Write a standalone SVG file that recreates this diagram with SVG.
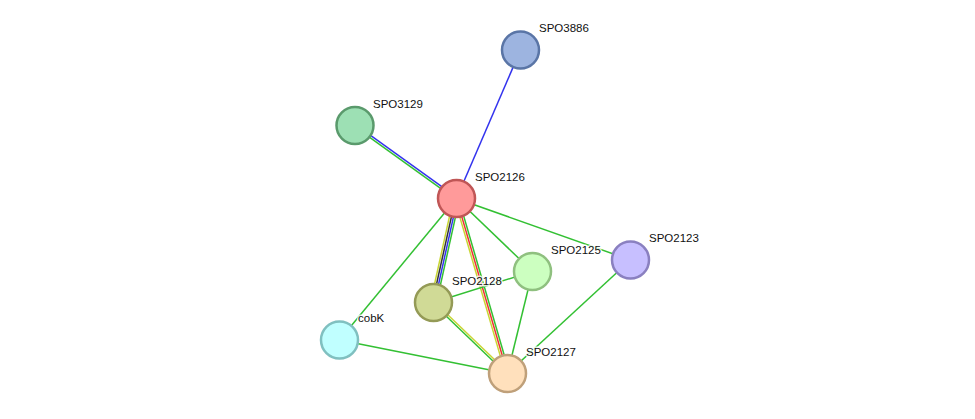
<svg xmlns="http://www.w3.org/2000/svg" width="975" height="419" viewBox="0 0 975 419">
<style>
.e{stroke-width:1.5;fill:none}
.g{stroke:#33c033}.b{stroke:#3333ee}.y{stroke:#c8d633}.k{stroke:#333333}.r{stroke:#ee3333}
.n{stroke-width:2.5}
text{font-family:"Liberation Sans",Arial,sans-serif;font-size:11.5px;fill:#111;stroke:#fff;stroke-width:3;stroke-opacity:0.8;paint-order:stroke;stroke-linejoin:round}
</style>
<rect width="975" height="419" fill="#fff"/>
<g id="edges">
<line class="e b" x1="456.5" y1="198.5" x2="520.5" y2="50"/>
<line class="e b" x1="355.6" y1="124.7" x2="457.1" y2="197.7"/>
<line class="e g" x1="354.4" y1="126.3" x2="455.9" y2="199.3"/>
<line class="e y" x1="453.6" y1="197.9" x2="430.6" y2="301.9"/>
<line class="e k" x1="455.5" y1="198.3" x2="432.5" y2="302.3"/>
<line class="e b" x1="457.5" y1="198.7" x2="434.5" y2="302.7"/>
<line class="e g" x1="459.4" y1="199.2" x2="436.4" y2="303.2"/>
<line class="e y" x1="454.6" y1="199.1" x2="505.6" y2="374.1"/>
<line class="e r" x1="456.5" y1="198.5" x2="507.5" y2="373.5"/>
<line class="e g" x1="458.4" y1="197.9" x2="509.4" y2="372.9"/>
<line class="e y" x1="434.2" y1="301.8" x2="508.2" y2="372.8"/>
<line class="e g" x1="432.8" y1="303.2" x2="506.8" y2="374.2"/>
<line class="e g" x1="456.5" y1="198.5" x2="532.5" y2="271.5"/>
<line class="e g" x1="456.5" y1="198.5" x2="630.5" y2="260"/>
<line class="e g" x1="456.5" y1="198.5" x2="339.5" y2="340"/>
<line class="e g" x1="433.5" y1="302.5" x2="532.5" y2="271.5"/>
<line class="e g" x1="532.5" y1="271.5" x2="507.5" y2="373.5"/>
<line class="e g" x1="630.5" y1="260" x2="507.5" y2="373.5"/>
<line class="e g" x1="339.5" y1="340" x2="507.5" y2="373.5"/>
</g>
<g id="SPO3886"><circle class="n" cx="520.5" cy="50" r="18.5" fill="#9db4e0" stroke="#5a75a6"/><text x="539" y="32">SPO3886</text></g>
<g id="SPO3129"><circle class="n" cx="355" cy="125.5" r="18.5" fill="#9de0b4" stroke="#5a9a6c"/><text x="373" y="108">SPO3129</text></g>
<g id="SPO2126"><circle class="n" cx="456.5" cy="198.5" r="18.5" fill="#ff9a9a" stroke="#c05656"/><text x="475" y="181">SPO2126</text></g>
<g id="SPO2125"><circle class="n" cx="532.5" cy="271.5" r="18.5" fill="#ccffc0" stroke="#8fc07f"/><text x="551" y="254">SPO2125</text></g>
<g id="SPO2123"><circle class="n" cx="630.5" cy="260" r="18.5" fill="#c7bfff" stroke="#8a80c0"/><text x="649" y="242">SPO2123</text></g>
<g id="SPO2128"><circle class="n" cx="433.5" cy="302.5" r="18.5" fill="#d0da96" stroke="#949a56"/><text x="452" y="285">SPO2128</text></g>
<g id="cobK"><circle class="n" cx="339.5" cy="340" r="18.5" fill="#c0ffff" stroke="#80c0c0"/><text x="358" y="322">cobK</text></g>
<g id="SPO2127"><circle class="n" cx="507.5" cy="373.5" r="18.5" fill="#ffe0bc" stroke="#bfa07a"/><text x="526" y="356">SPO2127</text></g>
</svg>
